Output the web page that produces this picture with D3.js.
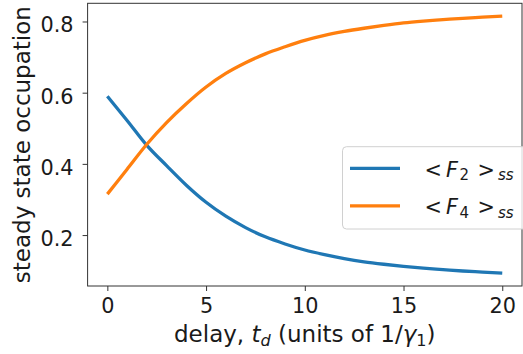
<!DOCTYPE html>
<html>
<head>
<meta charset="utf-8">
<script src="https://cdn.jsdelivr.net/npm/d3@7"></script>
<style>
  html, body { margin: 0; padding: 0; background: #fff; }
  svg { display: block; font-family: "DejaVu Sans", sans-serif; }
</style>
</head>
<body>
<svg id="chart" width="523" height="354"></svg>
<script>
// Delay times (units of 1/gamma_1)
const delay = [0, 1, 2, 3, 4, 5, 6, 7, 8, 9, 10, 11, 12, 13, 14, 15, 16, 17, 18, 19, 20];
// Steady-state occupation <F2>_ss
const f2Values = [0.590, 0.522, 0.452, 0.395, 0.340, 0.292, 0.253, 0.221, 0.195, 0.175, 0.158,
                  0.145, 0.134, 0.125, 0.118, 0.112, 0.107, 0.103, 0.099, 0.096, 0.093];
// Steady-state occupation <F4>_ss
const f4Values = [0.315, 0.385, 0.455, 0.516, 0.569, 0.616, 0.654, 0.684, 0.709, 0.729, 0.747,
                  0.761, 0.772, 0.781, 0.789, 0.796, 0.801, 0.805, 0.809, 0.812, 0.815];
const xTicks = [0, 5, 10, 15, 20];
const yTicks = [0.2, 0.4, 0.6, 0.8];
const seriesNames = ["F2", "F4"];
const seriesColors = ["#1f77b4", "#ff7f0e"];

const svg = d3.select("#chart");
const plot = { left: 87.6, right: 522, top: 3.3, bottom: 286 };

// Axis limits with a 5% margin around the data
const xMin = d3.min(delay), xMax = d3.max(delay);
const xPad = (xMax - xMin) * 0.05;
const yMin = d3.min(f2Values.concat(f4Values)), yMax = d3.max(f2Values.concat(f4Values));
const yPad = (yMax - yMin) * 0.05;

const x = d3.scaleLinear().domain([xMin - xPad, xMax + xPad]).range([plot.left, plot.right]);
const y = d3.scaleLinear().domain([yMin - yPad, yMax + yPad]).range([plot.bottom, plot.top]);

const tickFont = 20.8;
const labelFont = 23;

// Curves
const line = d3.line()
  .x(d => x(d[0]))
  .y(d => y(d[1]))
  .curve(d3.curveMonotoneX);

[f2Values, f4Values].forEach((vals, i) => {
  svg.append("path")
    .datum(delay.map((t, k) => [t, vals[k]]))
    .attr("d", line)
    .attr("fill", "none")
    .attr("stroke", seriesColors[i])
    .attr("stroke-width", 3.3)
    .attr("stroke-linecap", "butt")
    .attr("stroke-linejoin", "round");
});

// Bottom axis
const xAxis = d3.axisBottom(x).tickValues(xTicks).tickSize(5).tickPadding(6).tickFormat(d3.format("d"));
const gx = svg.append("g").attr("transform", `translate(0,${plot.bottom})`).call(xAxis);
gx.select(".domain").remove();
gx.selectAll(".tick line").attr("stroke", "#333").attr("stroke-width", 1);
gx.selectAll(".tick text")
  .attr("font-size", tickFont)
  .attr("font-family", "DejaVu Sans")
  .attr("fill", "#1a1a1a")
  .attr("dy", null)
  .attr("y", 27);

// Left axis
const yAxis = d3.axisLeft(y).tickValues(yTicks).tickSize(5).tickPadding(9).tickFormat(d3.format(".1f"));
const gy = svg.append("g").attr("transform", `translate(${plot.left},0)`).call(yAxis);
gy.select(".domain").remove();
gy.selectAll(".tick line").attr("stroke", "#333").attr("stroke-width", 1);
gy.selectAll(".tick text")
  .attr("font-size", tickFont)
  .attr("font-family", "DejaVu Sans")
  .attr("fill", "#1a1a1a")
  .attr("dy", "0.5em");

// Frame
svg.append("rect")
  .attr("x", plot.left).attr("y", plot.top)
  .attr("width", plot.right - plot.left).attr("height", plot.bottom - plot.top)
  .attr("fill", "none").attr("stroke", "#333").attr("stroke-width", 1);

// Axis titles
const xl = svg.append("text")
  .attr("x", (plot.left + plot.right) / 2).attr("y", 342)
  .attr("text-anchor", "middle")
  .attr("font-size", labelFont)
  .attr("fill", "#1a1a1a");
xl.append("tspan").text("delay, ");
xl.append("tspan").attr("font-style", "italic").text("t");
xl.append("tspan").attr("font-style", "italic").attr("font-size", labelFont * 0.7).attr("dy", 4).text("d");
xl.append("tspan").attr("dy", -4).text(" (units of 1/");
xl.append("tspan").attr("font-style", "italic").text("γ");
xl.append("tspan").attr("font-size", labelFont * 0.7).attr("dy", 4).text("1");
xl.append("tspan").attr("dy", -4).text(")");

svg.append("text")
  .attr("transform", `translate(30,${(plot.top + plot.bottom) / 2}) rotate(-90)`)
  .attr("text-anchor", "middle")
  .attr("font-size", labelFont)
  .attr("fill", "#1a1a1a")
  .text("steady state occupation");

// Legend
const legend = svg.append("g");
legend.append("rect")
  .attr("x", 342.5).attr("y", 146.7)
  .attr("width", 200).attr("height", 82.3)
  .attr("rx", 4).attr("ry", 4)
  .attr("fill", "rgba(255,255,255,0.8)")
  .attr("stroke", "#d0d0d0").attr("stroke-width", 1);

seriesNames.forEach((name, i) => {
  const yy = 168.3 + i * 37.6;
  legend.append("line")
    .attr("x1", 350).attr("x2", 400)
    .attr("y1", yy).attr("y2", yy)
    .attr("stroke", seriesColors[i]).attr("stroke-width", 3.3);
  const base = yy + 8.4;
  const sub = name.slice(1);
  const t = legend.append("text").attr("y", base).attr("font-size", tickFont).attr("fill", "#1a1a1a");
  t.append("tspan").attr("x", 424.5).text("<");
  t.append("tspan").attr("x", 446).attr("font-style", "italic").text(name[0]);
  t.append("tspan").attr("x", 459.5).attr("dy", 3.5).attr("font-size", 15).text(sub);
  t.append("tspan").attr("x", 477.5).attr("dy", -3.5).text(">");
  t.append("tspan").attr("x", 498).attr("dy", 3.5).attr("font-size", 15).attr("font-style", "italic").text("ss");
});
</script>
</body>
</html>
